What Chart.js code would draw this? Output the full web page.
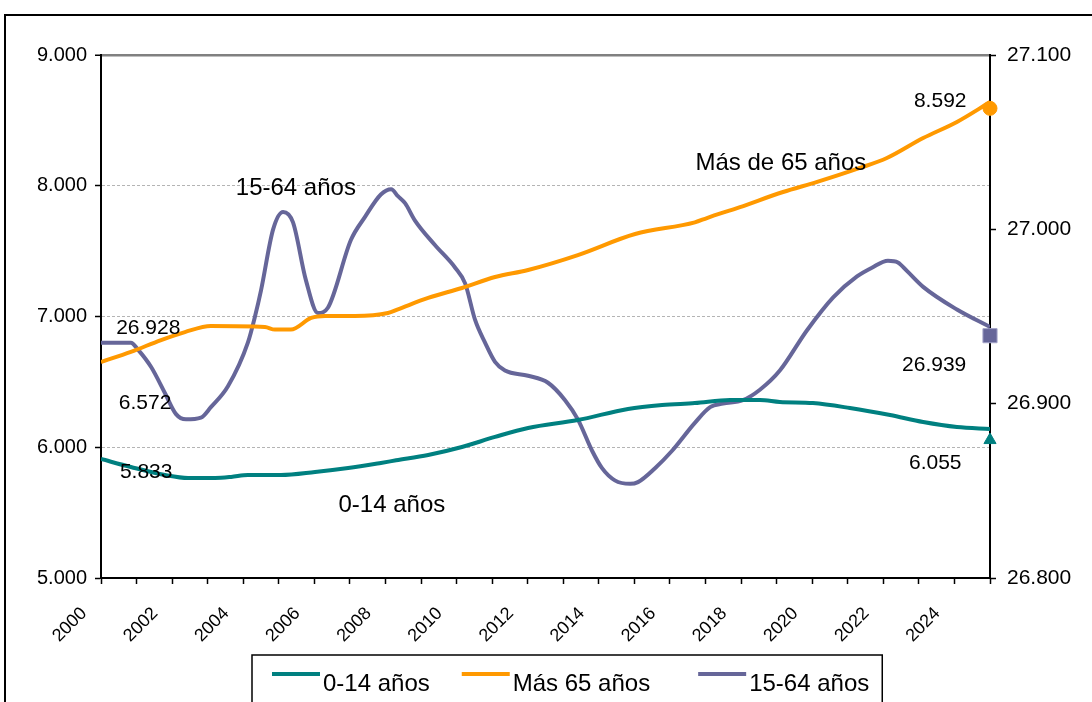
<!DOCTYPE html>
<html>
<head>
<meta charset="utf-8">
<script src="https://cdn.jsdelivr.net/npm/chart.js@4.4.0/dist/chart.umd.min.js"></script>
<style>
  html, body { margin: 0; padding: 0; background: #fff; }
</style>
</head>
<body>
<canvas id="myChart" width="1092" height="702"></canvas>
<script>
// 0-14 años (left axis)
const years014 = [2000, 2000.84, 2001.8, 2002.45, 2003.21, 2003.66, 2004.13, 2005.06, 2006.02, 2006.95, 2007.87, 2008.3, 2009.2, 2010.15, 2011.08, 2012.01, 2013.41, 2014.82, 2015.78, 2016.7, 2017.69, 2018.53, 2019.09, 2020.02, 2021.06, 2022.19, 2023.12, 2024.07, 2025];
const pop014 = [5910, 5849, 5788, 5765, 5765, 5773, 5788, 5788, 5811, 5841, 5880, 5900, 5941, 6002, 6079, 6147, 6208, 6293, 6323, 6338, 6361, 6361, 6346, 6338, 6300, 6246, 6193, 6155, 6140];

// Más de 65 años (left axis)
const yearsOld = [2000, 2000.84, 2001.69, 2002.36, 2003.09, 2004.61, 2004.89, 2005.34, 2005.91, 2006.3, 2007.14, 2008.07, 2008.35, 2009.2, 2010.15, 2011.08, 2012.01, 2013.41, 2015.02, 2016.7, 2017.04, 2017.97, 2019.18, 2020.14, 2021.34, 2022.1, 2023.12, 2024.07, 2025];
const popOld = [6652, 6729, 6820, 6881, 6927, 6920, 6900, 6900, 6989, 7004, 7004, 7027, 7055, 7142, 7218, 7302, 7356, 7470, 7631, 7720, 7753, 7837, 7952, 8029, 8136, 8212, 8365, 8488, 8640];

// 15-64 años (right axis)
const years1564 = [2000, 2000.84, 2001.04, 2001.41, 2001.8, 2002.11, 2002.39, 2002.81, 2003.09, 2003.57, 2004.13, 2004.33, 2004.5, 2004.84, 2005.12, 2005.4, 2005.76, 2006.1, 2006.38, 2007.03, 2007.42, 2007.87, 2008.16, 2008.35, 2008.55, 2008.83, 2009.39, 2009.96, 2010.24, 2010.52, 2010.8, 2011.08, 2011.36, 2012.01, 2012.57, 2013.05, 2013.41, 2013.81, 2014.09, 2014.45, 2014.88, 2015.1, 2015.58, 2016.06, 2016.7, 2017.13, 2017.49, 2018.05, 2018.53, 2019.09, 2019.85, 2020.59, 2021.26, 2021.68, 2022.13, 2022.41, 2022.67, 2023.12, 2024.07, 2025];
const pop1564 = [26935, 26935, 26931, 26921, 26906, 26894, 26891, 26892, 26898, 26910, 26935, 26950, 26965, 27000, 27010, 27004, 26971, 26952, 26955, 26994, 27007, 27020, 27023, 27019, 27015, 27005, 26991, 26978, 26969, 26948, 26935, 26924, 26919, 26916, 26912, 26902, 26891, 26873, 26863, 26856, 26854, 26855, 26863, 26873, 26889, 26898, 26900, 26902, 26908, 26919, 26942, 26961, 26973, 26978, 26982, 26981, 26976, 26967, 26954, 26944];

// end markers (2025)
const endYear = 2025;
const end014 = 6055;
const endOld = 8592;
const end1564 = 26939;

// text notes on the plot, placed on the left-axis scale
const noteTexts = ["15-64 años", "Más de 65 años", "0-14 años", "8.592", "26.928", "6.572", "5.833", "26.939", "6.055"];
const noteYears = [2005.48, 2019.12, 2008.18, 2023.6, 2001.33, 2001.24, 2001.27, 2023.43, 2023.46];
const noteValues = [7983, 8174, 5558, 8648, 6912, 6338, 5811, 6629, 5880];

const TEAL = "#008080";
const ORANGE = "#FF9900";
const PURPLE = "#666699";
const FONT = "'Liberation Sans', Arial, sans-serif";

function fmt(v) {
  return String(v).replace(/\B(?=(\d{3})+(?!\d))/g, ".");
}

const toPoints = (xs, ys) => xs.map((x, i) => ({ x: x, y: ys[i] }));

// notes on the plot
const notesPlugin = {
  id: "notes",
  afterDatasetsDraw(chart) {
    const ctx = chart.ctx;
    const xs = chart.scales.x;
    const ys = chart.scales.y;
    ctx.save();
    ctx.fillStyle = "#000";
    ctx.textAlign = "center";
    ctx.textBaseline = "middle";
    noteTexts.forEach((t, i) => {
      const isNumber = /^[\d.]+$/.test(t);
      ctx.font = (isNumber ? "21px " : "24px ") + FONT;
      ctx.fillText(t, xs.getPixelForValue(noteYears[i]), ys.getPixelForValue(noteValues[i]));
    });
    ctx.restore();
  },
};

// outer frame and boxed legend
const framePlugin = {
  id: "frame",
  afterDraw(chart) {
    const ctx = chart.ctx;
    ctx.save();
    ctx.strokeStyle = "#000";
    ctx.lineWidth = 2;
    ctx.strokeRect(5, 15, 1200, 800);

    const items = chart.data.datasets.slice(0, 3);
    const gaps = [32, 48, 0];
    const top = chart.scales.x.bottom;
    const left = chart.chartArea.left + 151;
    ctx.font = "24px " + FONT;
    let x = left + 20;
    items.forEach((ds, i) => {
      ctx.strokeStyle = ds.borderColor;
      ctx.lineWidth = 4;
      ctx.beginPath();
      ctx.moveTo(x, top + 19);
      ctx.lineTo(x + 48, top + 19);
      ctx.stroke();
      ctx.fillStyle = "#000";
      ctx.textBaseline = "middle";
      ctx.textAlign = "left";
      ctx.fillText(ds.label, x + 51, top + 29);
      x += 51 + ctx.measureText(ds.label).width + gaps[i];
    });
    ctx.strokeStyle = "#000";
    ctx.lineWidth = 1.5;
    ctx.strokeRect(left, top, x + 13 - left, 100);
    ctx.restore();
  },
};

const endMarker = (label, value, axis, style, radius, fill, edge) => ({
  label: label,
  data: [{ x: endYear, y: value }],
  yAxisID: axis,
  showLine: false,
  clip: false,
  pointStyle: style,
  pointRadius: radius,
  backgroundColor: fill,
  borderColor: edge,
  borderWidth: 1,
});

new Chart("myChart", {
  type: "line",
  data: {
    datasets: [
      {
        label: "0-14 años",
        data: toPoints(years014, pop014),
        yAxisID: "y",
        borderColor: TEAL,
        backgroundColor: TEAL,
        borderWidth: 4,
        pointRadius: 0,
        cubicInterpolationMode: "monotone",
      },
      {
        label: "Más 65 años",
        data: toPoints(yearsOld, popOld),
        yAxisID: "y",
        borderColor: ORANGE,
        backgroundColor: ORANGE,
        borderWidth: 4,
        pointRadius: 0,
        cubicInterpolationMode: "monotone",
      },
      {
        label: "15-64 años",
        data: toPoints(years1564, pop1564),
        yAxisID: "y2",
        borderColor: PURPLE,
        backgroundColor: PURPLE,
        borderWidth: 4,
        pointRadius: 0,
        cubicInterpolationMode: "monotone",
      },
      endMarker("fin 0-14", end014, "y", "triangle", 7, TEAL, TEAL),
      endMarker("fin 65", endOld, "y", "circle", 7, ORANGE, ORANGE),
      endMarker("fin 15-64", end1564, "y2", "rect", 10, PURPLE, "#a3a3c8"),
    ],
  },
  options: {
    responsive: false,
    animation: false,
    layout: { padding: { top: 55, left: 0, right: 0, bottom: 47 } },
    plugins: {
      legend: { display: false },
      tooltip: { enabled: false },
    },
    scales: {
      x: {
        type: "linear",
        min: 2000,
        max: 2025,
        afterFit: (s) => { s.height = 77; },
        ticks: {
          stepSize: 1,
          autoSkip: false,
          maxRotation: 45,
          minRotation: 45,
          padding: 19,
          labelOffset: -17,
          color: "#000",
          font: { family: FONT, size: 18 },
          callback: (v) => (v % 2 === 0 && v < 2025 ? String(v) : ""),
        },
        grid: { drawOnChartArea: false, tickLength: 6, tickColor: "#000", tickWidth: 1.5 },
        border: { color: "#000", width: 2 },
      },
      y: {
        position: "left",
        min: 5000,
        max: 9000,
        afterFit: (s) => { s.width = 101; },
        ticks: {
          stepSize: 1000,
          padding: 8,
          color: "#000",
          font: { family: FONT, size: 20 },
          callback: (v) => fmt(v),
        },
        grid: {
          color: (c) => (c.tick && c.tick.value === 9000 ? "#808080" : c.tick && c.tick.value === 5000 ? "rgba(0,0,0,0)" : "#b4b4b4"),
          lineWidth: (c) => (c.tick && c.tick.value === 9000 ? 2.5 : 1),
          tickLength: 6,
          tickColor: "#000",
          tickWidth: 1.5,
        },
        border: {
          color: "#000",
          width: 2,
          dash: (c) => (c.tick && c.tick.value === 9000 ? [] : [3, 2]),
        },
      },
      y2: {
        position: "right",
        min: 26800,
        max: 27100,
        afterFit: (s) => { s.width = 102; },
        ticks: {
          stepSize: 100,
          padding: 11,
          color: "#000",
          font: { family: FONT, size: 21 },
          callback: (v) => fmt(v),
        },
        grid: { drawOnChartArea: false, tickLength: 6, tickColor: "#000", tickWidth: 1.5 },
        border: { color: "#000", width: 2 },
      },
    },
  },
  plugins: [notesPlugin, framePlugin],
});
</script>
</body>
</html>
